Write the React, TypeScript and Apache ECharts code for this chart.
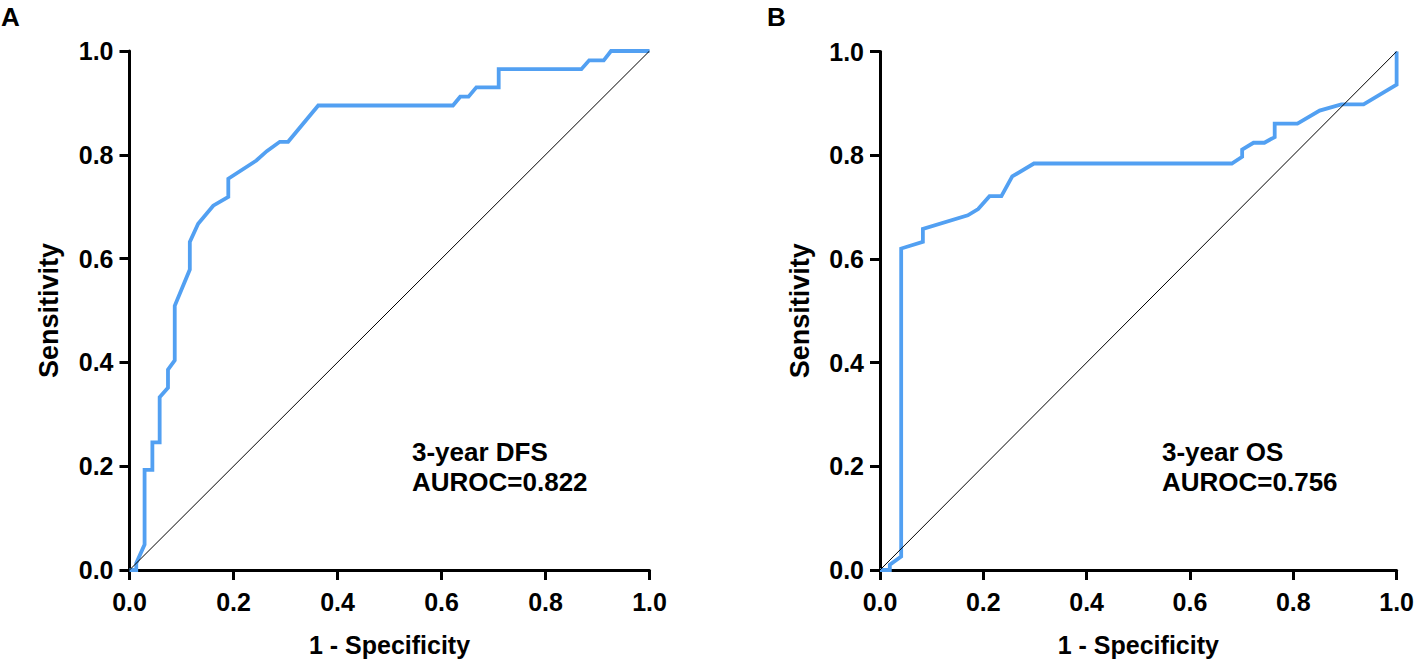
import React, { useEffect, useRef } from "react";
import * as echarts from "echarts";

const tickValues = [0, 0.2, 0.4, 0.6, 0.8, 1.0];

// Panel A: 3-year DFS ROC
const dfsFpr = [0, 0.013, 0.013, 0.029, 0.029, 0.044, 0.044, 0.058, 0.058, 0.074, 0.074, 0.087, 0.087, 0.116, 0.116, 0.132, 0.161, 0.19, 0.19, 0.244, 0.264, 0.289, 0.305, 0.363, 0.622, 0.636, 0.652, 0.667, 0.71, 0.71, 0.869, 0.884, 0.912, 0.926, 1.0];
const dfsTpr = [0, 0, 0.013, 0.049, 0.193, 0.193, 0.246, 0.246, 0.333, 0.351, 0.386, 0.404, 0.509, 0.579, 0.632, 0.667, 0.702, 0.719, 0.754, 0.789, 0.807, 0.825, 0.825, 0.895, 0.895, 0.912, 0.912, 0.93, 0.93, 0.965, 0.965, 0.982, 0.982, 1.0, 1.0];

// Panel B: 3-year OS ROC
const osFpr = [0, 0.019, 0.019, 0.041, 0.041, 0.083, 0.083, 0.17, 0.19, 0.212, 0.235, 0.256, 0.298, 0.681, 0.701, 0.701, 0.723, 0.744, 0.764, 0.764, 0.808, 0.851, 0.893, 0.936, 1.0, 1.0];
const osTpr = [0, 0, 0.01, 0.026, 0.62, 0.633, 0.658, 0.684, 0.696, 0.721, 0.721, 0.759, 0.784, 0.784, 0.797, 0.811, 0.824, 0.824, 0.835, 0.861, 0.861, 0.886, 0.898, 0.898, 0.936, 1.0];

const refX = [0, 1];
const refY = [0, 1];

const panelLetters = ["A", "B"];
const annotTitles = ["3-year DFS", "3-year OS"];
const annotAuroc = ["AUROC=0.822", "AUROC=0.756"];
const xTitle = "1 - Specificity";
const yTitle = "Sensitivity";

const FONT = '"Liberation Sans", Arial, Helvetica, sans-serif';
const BLUE = "#52A0F2";

const zip = (xs: number[], ys: number[]) => xs.map((x, i) => [x, ys[i]]);

export default function App() {
  const ref = useRef<HTMLDivElement>(null);
  useEffect(() => {
    if (!ref.current) return;
    const chart = echarts.init(ref.current, null, { renderer: "svg" });
    const grids = [
      { left: 129.5, top: 51, width: 520, height: 520.5 },
      { left: 880, top: 51.5, width: 519, height: 520 },
    ];
    const axisCommon = {
      type: "value",
      min: 0,
      max: 1,
      interval: 0.2,
      splitLine: { show: false },
      axisLine: { show: true, onZero: false, lineStyle: { color: "#000", width: 3 } },
      axisTick: { show: true, inside: false, length: 10, lineStyle: { color: "#000", width: 3 } },
      axisLabel: {
        color: "#000",
        fontSize: 25,
        fontWeight: "bold",
        fontFamily: FONT,
        formatter: (v: number) => v.toFixed(1),
        showMinLabel: true,
        showMaxLabel: true,
      },
      nameLocation: "middle",
    };
    const xAxes = grids.map((_, i) => ({
      ...axisCommon,
      gridIndex: i,
      name: xTitle,
      nameGap: 62,
      nameTextStyle: { color: "#000", fontSize: 25, fontWeight: "bold", fontFamily: FONT },
      axisLabel: { ...axisCommon.axisLabel, margin: 19 },
    }));
    const yAxes = grids.map((_, i) => ({
      ...axisCommon,
      gridIndex: i,
      name: yTitle,
      nameGap: 67,
      nameTextStyle: { color: "#000", fontSize: 27, fontWeight: "bold", fontFamily: FONT },
      axisLabel: { ...axisCommon.axisLabel, margin: 16 },
    }));
    const rocSets = [zip(dfsFpr, dfsTpr), zip(osFpr, osTpr)];
    const series: any[] = [];
    rocSets.forEach((d, i) => {
      series.push({
        type: "line",
        xAxisIndex: i,
        yAxisIndex: i,
        data: d,
        showSymbol: false,
        symbol: "none",
        lineStyle: { color: BLUE, width: 3.8, join: "miter" },
        z: 2,
      });
      series.push({
        type: "line",
        xAxisIndex: i,
        yAxisIndex: i,
        data: zip(refX, refY),
        showSymbol: false,
        symbol: "none",
        lineStyle: { color: "#000", width: 1 },
        z: 3,
      });
    });
    const graphic: any[] = [];
    const letterX = [1, 767];
    const annotX = [412, 1162];
    panelLetters.forEach((l, i) => {
      graphic.push({
        type: "text",
        left: letterX[i],
        top: 4,
        style: { text: l, fill: "#000", font: `bold 26px ${FONT}` },
      });
      graphic.push({
        type: "text",
        left: annotX[i],
        top: 439,
        style: { text: annotTitles[i], fill: "#000", font: `bold 26px ${FONT}` },
      });
      graphic.push({
        type: "text",
        left: annotX[i],
        top: 469,
        style: { text: annotAuroc[i], fill: "#000", font: `bold 26px ${FONT}` },
      });
    });
    chart.setOption({
      animation: false,
      backgroundColor: "#fff",
      grid: grids,
      xAxis: xAxes,
      yAxis: yAxes,
      series,
      graphic,
    });
    return () => chart.dispose();
  }, []);
  return (
    <div
      ref={ref}
      style={{ position: "absolute", left: 0, top: 0, width: 1417, height: 662 }}
    />
  );
}
